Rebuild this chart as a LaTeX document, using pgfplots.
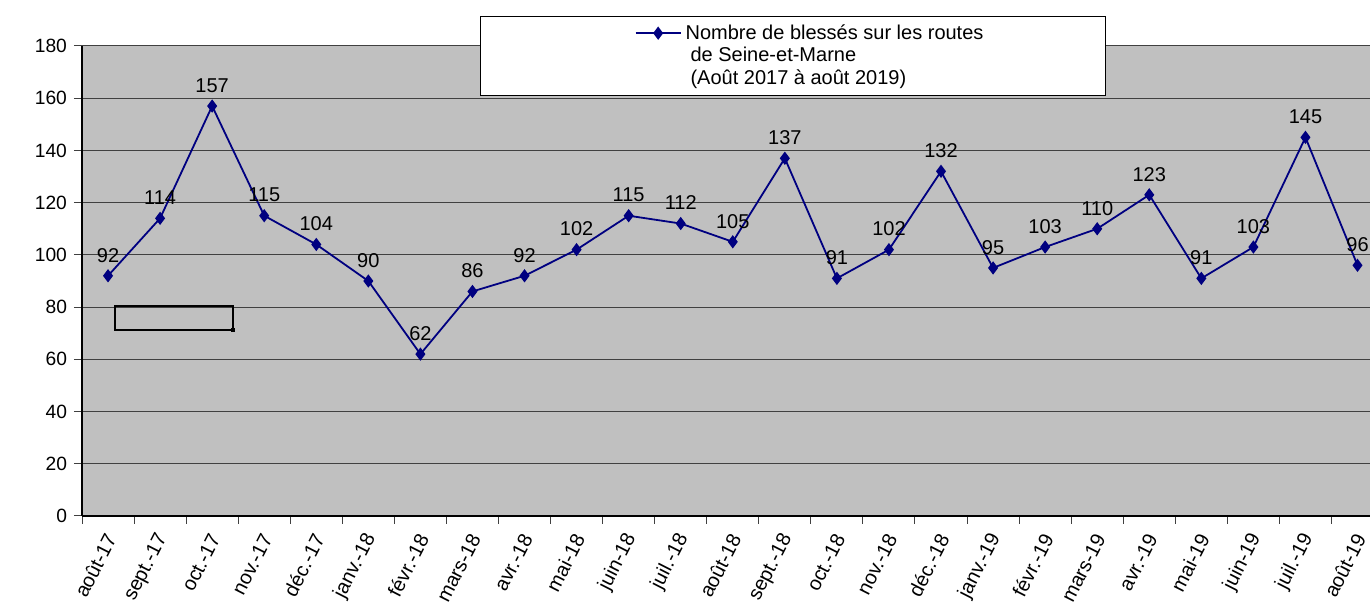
\documentclass[border=0pt]{standalone}
\usepackage{fontspec}
\setmainfont{Liberation Sans}
\usepackage{pgfplots}
\pgfplotsset{compat=1.18}
\definecolor{bg}{HTML}{C0C0C0}
\definecolor{navyline}{HTML}{000080}
\newcommand{\chartfont}{\fontsize{10}{11.25}\selectfont}
\newcommand{\yfont}{\fontsize{9.6}{11}\selectfont}
\begin{document}
\begin{tikzpicture}
\begin{axis}[
  scale only axis, width=644pt, height=235pt,
  xmin=-0.5, xmax=24.24, ymin=0, ymax=180,
  /pgf/number format/assume math mode=true,
  axis background/.style={fill=bg},
  axis x line*=bottom, axis y line*=left,
  axis line style={black, line width=0.7pt, -},
  ytick={0,20,...,180}, ymajorgrids,
  major grid style={color=black!75, line width=0.5pt},
  tick align=outside, major tick length=4pt,
  tick style={black!75, line width=0.5pt},
  xtick={-0.5,0.5,...,23.5}, xticklabels={},
  yticklabel style={font=\yfont},
  extra x ticks={0,1,...,24},
  extra x tick labels={août-17,sept.-17,oct.-17,nov.-17,déc.-17,janv.-18,févr.-18,mars-18,avr.-18,mai-18,juin-18,juil.-18,août-18,sept.-18,oct.-18,nov.-18,déc.-18,janv.-19,févr.-19,mars-19,avr.-19,mai-19,juin-19,juil.-19,août-19},
  extra x tick style={major tick length=0pt, grid=none,
     tick label style={font=\chartfont, xshift=3pt, yshift=-6.5pt, rotate=63, anchor=east}},
  legend columns=2,
  legend cell align=left,
  legend style={at={(0.795,1.064)}, anchor=north east, draw=black, fill=white,
     font=\chartfont, inner sep=2pt},
  legend image code/.code={\draw[yshift=11.25pt,mark repeat=2,mark phase=2,#1] plot coordinates {(0pt,0pt)(11.25pt,0pt)(22.5pt,0pt)};},
  nodes near coords,
  every node near coord/.append style={font=\chartfont, text=black, yshift=3pt},
]
\addlegendimage{empty legend}
\addlegendentry{\hspace*{71pt}}
\addplot[color=navyline, line width=0.9pt, mark=diamond*, mark size=2.6pt,
  mark options={fill=navyline, draw=navyline}]
 coordinates {
 (0,92) (1,114) (2,157) (3,115) (4,104) (5,90) (6,62) (7,86) (8,92) (9,102)
 (10,115) (11,112) (12,105) (13,137) (14,91) (15,102) (16,132) (17,95) (18,103)
 (19,110) (20,123) (21,91) (22,103) (23,145) (24,96)
 };
\addlegendentry{\parbox[b]{206pt}{\raggedright Nombre de blessés sur les routes\\\hspace*{2.5pt}de Seine-et-Marne\\\hspace*{2.5pt}(Août 2017 à août 2019)}}
\draw[black, line width=0.8pt] (axis cs:0.13,80.4) rectangle (axis cs:2.4,71.2);
\fill[black] (axis cs:2.4,71.2) ++(-1pt,-1pt) rectangle ++(2pt,2pt);
\coordinate (bl) at (rel axis cs:0,0);
\coordinate (tr) at (rel axis cs:1,1);
\end{axis}
\pgfresetboundingbox
\path[use as bounding box] ([xshift=-41pt,yshift=-43.5pt]bl) rectangle ([yshift=23pt]tr);
\end{tikzpicture}
\end{document}
